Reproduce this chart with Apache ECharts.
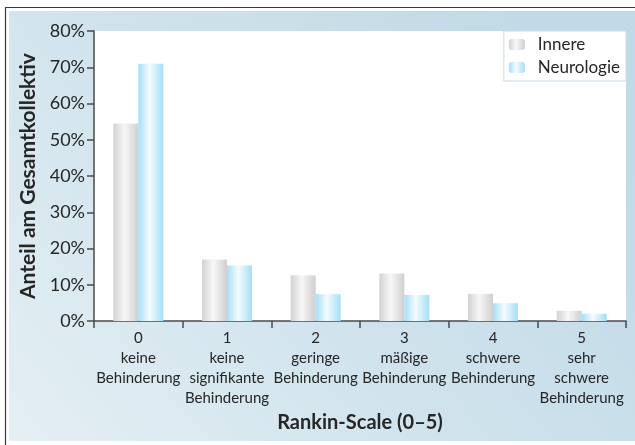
<!DOCTYPE html>
<html>
<head>
<meta charset="utf-8">
<script src="https://cdn.jsdelivr.net/npm/echarts@6/dist/echarts.min.js"></script>
<style>
  html, body { margin: 0; padding: 0; background: #ffffff; }
  #chart { width: 635px; height: 445px; }
</style>
</head>
<body>
<div id="chart"></div>
<script>
// Rankin-Scale categories (score + description)
const categories = [
  '0\nkeine\nBehinderung',
  '1\nkeine\nsignifikante\nBehinderung',
  '2\ngeringe\nBehinderung',
  '3\nmäßige\nBehinderung',
  '4\nschwere\nBehinderung',
  '5\nsehr\nschwere\nBehinderung'
];
// Share of the total collective, in percent
const innere = [54.5, 17.0, 12.6, 13.1, 7.5, 2.8];
const neurologie = [71.0, 15.3, 7.4, 7.2, 4.9, 2.0];
const yTicks = [0, 10, 20, 30, 40, 50, 60, 70, 80];

const FONT = 'Lato';
const INK = '#262626';

function cylinder(edgeL, mid, edgeR) {
  return new echarts.graphic.LinearGradient(0, 0, 1, 0, [
    { offset: 0, color: edgeL },
    { offset: 0.45, color: mid },
    { offset: 1, color: edgeR }
  ]);
}
const grayFill = cylinder('#d2d2d2', '#f7f7f7', '#cfcfcf');
const blueFill = cylinder('#a6def7', '#f4fbfe', '#a6def7');

const chart = echarts.init(document.getElementById('chart'), null, { renderer: 'canvas' });

chart.setOption({
  animation: false,
  backgroundColor: '#ffffff',
  textStyle: { fontFamily: FONT, color: INK },
  graphic: [
    {
      type: 'rect', z: -10, silent: true,
      shape: { x: 5.5, y: 7.5, width: 640, height: 450 },
      style: { fill: '#ffffff', stroke: '#3a3a3a', lineWidth: 1.2 }
    },
    {
      type: 'rect', z: -9, silent: true,
      shape: { x: 9, y: 11, width: 630, height: 430 },
      style: {
        fill: new echarts.graphic.LinearGradient(0, 1, 0.8, 0, [
          { offset: 0, color: '#e4eff4' },
          { offset: 0.45, color: '#d2e4ed' },
          { offset: 1, color: '#c0dae7' }
        ])
      }
    }
  ],
  grid: {
    left: 94, right: 9, top: 31, bottom: 124,
    show: true, backgroundColor: '#ffffff', borderWidth: 0
  },
  legend: {
    orient: 'vertical',
    right: 9, top: 31,
    backgroundColor: '#ffffff',
    borderColor: '#c6dbe6', borderWidth: 1,
    padding: [5, 6, 5, 5],
    itemWidth: 16, itemHeight: 11, itemGap: 6,
    textStyle: { fontFamily: FONT, fontSize: 17, color: INK, padding: [0, 0, 0, 8] },
    data: ['Innere', 'Neurologie']
  },
  xAxis: {
    type: 'category',
    data: categories,
    name: 'Rankin-Scale (0–5)',
    nameLocation: 'middle',
    nameGap: 89,
    nameTextStyle: { fontFamily: FONT, fontSize: 20, fontWeight: 'bold', color: INK },
    axisLine: { lineStyle: { color: '#4a4a4a', width: 1.5 } },
    axisTick: { show: true, length: 7, lineStyle: { color: '#4a4a4a', width: 1.5 } },
    axisLabel: {
      interval: 0, margin: 7, fontFamily: FONT, fontSize: 15, lineHeight: 20, color: INK
    }
  },
  yAxis: {
    type: 'value',
    min: 0, max: 80, interval: 10,
    name: 'Anteil am Gesamtkollektiv',
    nameLocation: 'middle',
    nameGap: 54,
    nameTextStyle: { fontFamily: FONT, fontSize: 21, fontWeight: 'bold', color: INK },
    axisLine: { show: true, lineStyle: { color: '#4a4a4a', width: 1.5 } },
    axisTick: { show: true, length: 7, lineStyle: { color: '#4a4a4a', width: 1.5 } },
    splitLine: { show: false },
    axisLabel: {
      margin: 9, fontFamily: FONT, fontSize: 18, color: INK,
      formatter: v => (yTicks.includes(v) ? v + '%' : '')
    }
  },
  series: [
    {
      name: 'Innere', type: 'bar', data: innere,
      barWidth: 25, barGap: '0%',
      itemStyle: { color: grayFill }
    },
    {
      name: 'Neurologie', type: 'bar', data: neurologie,
      barWidth: 25,
      itemStyle: { color: blueFill }
    }
  ]
});
</script>
</body>
</html>
